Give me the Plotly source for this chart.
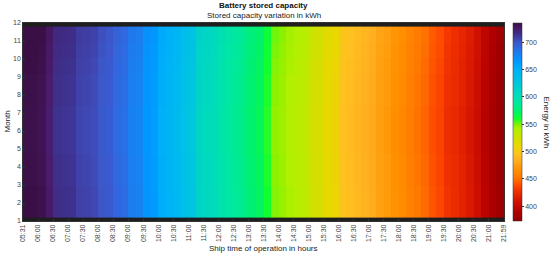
import plotly.graph_objects as go

# ---- data ----
months = [1, 2, 3, 4, 5, 6, 7, 8, 9, 10, 11, 12]
time_labels = ["05:31", "06:00", "06:30", "07:00", "07:30", "08:00", "08:30", "09:00",
               "09:30", "10:00", "10:30", "11:00", "11:30", "12:00", "12:30", "13:00",
               "13:30", "14:00", "14:30", "15:00", "15:30", "16:00", "16:30", "17:00",
               "17:30", "18:00", "18:30", "19:00", "19:30", "20:00", "20:30", "21:00",
               "21:59"]
# stored energy (kWh) along the day, two samples per label interval
energy_profile = [735, 735, 733, 725, 716, 715, 714, 708, 707, 705,
                  700, 698, 691, 688, 680, 677, 667, 663, 652, 648,
                  641, 633, 628, 612, 608, 605, 598, 591, 587, 582,
                  576, 572, 560, 549, 546, 541, 538, 534, 526, 522,
                  512, 508, 497, 494, 490, 486, 482, 476, 472, 466,
                  462, 457, 452, 448, 441, 437, 429, 425, 420, 414,
                  407, 395, 388, 381]
# small month-to-month deviation (kWh)
month_offset = [0, 0, -1, -1, -2, -2, -2, -1, -1, 0, 1, 2]
colorbar_ticks = [400, 450, 500, 550, 600, 650, 700]

z = [[v + off for v in energy_profile] for off in month_offset]

colorscale = [
    [0.000, "#900000"], [0.047, "#b00000"], [0.097, "#d01000"], [0.124, "#e02000"],
    [0.152, "#f03000"], [0.185, "#ff5000"], [0.218, "#ff7800"], [0.254, "#ff9000"],
    [0.282, "#ffa010"], [0.309, "#ffb020"], [0.337, "#ffc020"], [0.378, "#e8d800"],
    [0.420, "#d0e000"], [0.461, "#b0f000"], [0.483, "#90f000"], [0.517, "#10ff30"],
    [0.558, "#00f070"], [0.599, "#00e8a0"], [0.649, "#00d8c0"], [0.715, "#00c0e8"],
    [0.765, "#00b0f8"], [0.807, "#0098ff"], [0.843, "#1a80f0"], [0.876, "#3068e0"],
    [0.903, "#3d56c8"], [0.925, "#4040a8"], [0.945, "#3e2f8a"], [0.972, "#4a1a6a"],
    [1.000, "#3a0f45"],
]

n_rows = len(months)
dy = (11.8 - 1.2) / n_rows
FONT = "Liberation Sans"

fig = go.Figure(go.Heatmap(
    z=z,
    x0=0.25, dx=0.5,
    y0=1.2 + dy / 2, dy=dy,
    zmin=373, zmax=735,
    colorscale=colorscale,
    colorbar=dict(
        x=1.019, xanchor="left", xpad=0, xref="paper",
        thickness=9, len=1.0, lenmode="fraction", y=0.5, yanchor="middle", ypad=0,
        outlinewidth=0.5, outlinecolor="#333",
        tickvals=colorbar_ticks,
        ticks="outside", ticklen=2, tickcolor="#333",
        tickfont=dict(size=7, color="#444", family=FONT),
    ),
    hoverinfo="skip",
))

fig.update_layout(
    width=550, height=255,
    margin=dict(l=23, r=46, t=23, b=34, autoexpand=False),
    paper_bgcolor="white",
    plot_bgcolor="#1e1e1e",
    font=dict(family=FONT, size=7, color="#444"),
    annotations=[
        dict(text="<b>Battery stored capacity</b>", x=0.5, xref="paper", y=1, yref="paper",
             xanchor="center", yanchor="bottom", yshift=11, showarrow=False,
             font=dict(size=8, color="#111", family=FONT)),
        dict(text="Stored capacity variation in kWh", x=0.5, xref="paper", y=1, yref="paper",
             xanchor="center", yanchor="bottom", yshift=1, showarrow=False,
             font=dict(size=8, color="#222", family=FONT)),
        dict(text="Ship time of operation in hours", x=0.5, xref="paper", y=0, yref="paper",
             xanchor="center", yanchor="top", yshift=-21, showarrow=False,
             font=dict(size=8, color="#222", family=FONT)),
        dict(text="Month", x=0, xref="paper", y=0.5, yref="paper", textangle=-90,
             xanchor="right", yanchor="middle", xshift=-10, showarrow=False,
             font=dict(size=8, color="#222", family=FONT)),
        dict(text="Energy in kWh", x=1.0, xref="paper", y=0.5, yref="paper", textangle=90,
             xanchor="left", yanchor="middle", xshift=36, showarrow=False,
             font=dict(size=8, color="#222", family=FONT)),
    ],
)

fig.update_xaxes(
    range=[0, len(time_labels) - 1],
    tickvals=list(range(len(time_labels))),
    ticktext=time_labels,
    tickangle=-90,
    ticks="inside", ticklen=2, tickcolor="#333",
    tickfont=dict(size=7, color="#444"),
    showgrid=False, zeroline=False,
    showline=True, linecolor="#333", linewidth=0.5, mirror=True,
    automargin=False,
)
fig.update_yaxes(
    range=[1, 12],
    tickvals=months,
    ticks="inside", ticklen=2, tickcolor="#333",
    tickfont=dict(size=7, color="#444"),
    showgrid=False, zeroline=False,
    showline=True, linecolor="#333", linewidth=0.5, mirror=True,
    automargin=False,
)

fig.write_html("out.html", config={"displayModeBar": False},
               post_script="document.body.style.margin='0';document.body.style.overflow='hidden';")
